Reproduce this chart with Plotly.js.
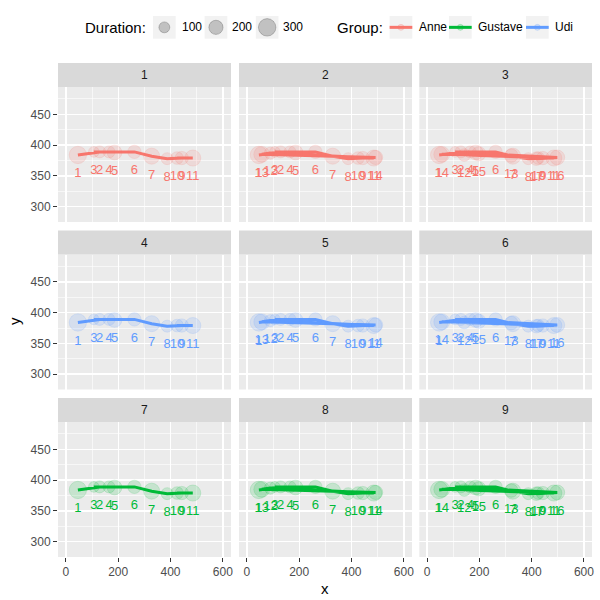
<!DOCTYPE html>
<html>
<head>
<meta charset="utf-8">
<script src="https://cdn.plot.ly/plotly-3.0.1.min.js"></script>
<style>html,body{margin:0;padding:0;background:#fff;}#chart{width:600px;height:600px;}</style>
</head>
<body>
<div id="chart"></div>
<script>
// ---------- data ----------
const groups = ['Anne', 'Gustave', 'Udi'];
const panelLabels = ['1', '2', '3', '4', '5', '6', '7', '8', '9'];
const panelGroup = ['Anne', 'Anne', 'Anne', 'Udi', 'Udi', 'Udi', 'Gustave', 'Gustave', 'Gustave'];
const panelTrial = [1, 2, 3, 1, 2, 3, 1, 2, 3];

// trial 1 fixations
const t1Fix = [1, 2, 3, 4, 5, 6, 7, 8, 9, 10, 11];
const t1X   = [46, 129, 107, 165, 186, 262, 328, 387, 443, 425, 485];
const t1Y   = [384, 389, 389, 389, 388, 389, 382, 378, 379, 379, 379];
const t1Dur = [295, 133, 94, 133, 215, 173, 255, 133, 173, 153, 255];

// trial 2 fixations
const t2Fix = [1, 2, 3, 4, 5, 6, 7, 8, 9, 10, 11, 12, 13, 14];
const t2X   = [46, 129, 107, 165, 186, 262, 328, 387, 443, 425, 485, 90, 57, 492];
const t2Y   = [384, 389, 389, 389, 388, 389, 382, 378, 379, 379, 379, 387, 385, 380];
const t2Dur = [295, 133, 94, 133, 215, 173, 255, 133, 173, 153, 255, 135, 250, 200];

// trial 3 fixations
const t3Fix = [1, 2, 3, 4, 5, 6, 7, 8, 9, 10, 11, 12, 13, 14, 15, 16, 17];
const t3X   = [46, 129, 107, 165, 186, 262, 328, 387, 443, 425, 485, 142, 322, 56, 198, 498, 418];
const t3Y   = [384, 389, 389, 389, 388, 389, 382, 378, 379, 379, 379, 384, 383, 385, 386, 380, 378];
const t3Dur = [295, 133, 94, 133, 215, 173, 255, 133, 173, 153, 255, 150, 180, 250, 200, 220, 180];

const durationBreaks = [100, 200, 300];
const xTicks = [0, 200, 400, 600];
const yTicks = [300, 350, 400, 450];

// ---------- styles ----------
const colors = { Anne: '#F8766D', Gustave: '#00BA38', Udi: '#619CFF' };
const alphaCol = { Anne: 'rgba(248,118,109,0.22)', Gustave: 'rgba(0,186,56,0.22)', Udi: 'rgba(97,156,255,0.22)' };
const FONT = '"Liberation Sans", Arial, sans-serif';
const sizeOf = d => 7.6 + 0.033 * d;      // duration -> marker diameter (px)
const labelOffset = 31;                   // text drawn below the point (data units)

const trials = {
  1: { fix: t1Fix, x: t1X, y: t1Y, dur: t1Dur },
  2: { fix: t2Fix, x: t2X, y: t2Y, dur: t2Dur },
  3: { fix: t3Fix, x: t3X, y: t3Y, dur: t3Dur }
};

const W = 600, H = 600;
const colPx = [[58, 231], [239, 412], [419.3, 592]];
const rowPx = [[87, 222], [254.5, 389.5], [422, 557]];
const stripPx = [[63, 87], [230.5, 254.5], [398, 422]];
const px = v => v / W;
const py = v => 1 - v / H;

const traces = [];
const layout = {
  width: W, height: H,
  margin: { l: 0, r: 0, t: 0, b: 0 },
  paper_bgcolor: '#FFFFFF',
  plot_bgcolor: '#EBEBEB',
  showlegend: false,
  font: { family: FONT, color: '#000000' },
  shapes: [],
  annotations: []
};

for (let i = 0; i < 9; i++) {
  const row = Math.floor(i / 3), col = i % 3;
  const n = i === 0 ? '' : String(i + 1);
  const g = panelGroup[i];
  const d = trials[panelTrial[i]];
  const xa = 'x' + n, ya = 'y' + n;

  layout['xaxis' + n] = {
    domain: [px(colPx[col][0]), px(colPx[col][1])],
    anchor: ya,
    range: [-30, 631],
    tickvals: xTicks,
    showticklabels: row === 2,
    ticks: row === 2 ? 'outside' : '',
    ticklen: 4, tickwidth: 1.1, tickcolor: '#333333',
    tickfont: { family: FONT, size: 12, color: '#4D4D4D' },
    showgrid: true, gridcolor: '#FFFFFF', gridwidth: 1.3,
    minor: { tickvals: [100, 300, 500], showgrid: true, gridcolor: '#FFFFFF', gridwidth: 0.6, ticks: '' },
    zeroline: false, showline: false, fixedrange: true
  };
  layout['yaxis' + n] = {
    domain: [py(rowPx[row][1]), py(rowPx[row][0])],
    anchor: xa,
    range: [275, 494.5],
    tickvals: yTicks,
    showticklabels: col === 0,
    ticks: col === 0 ? 'outside' : '',
    ticklen: 4, tickwidth: 1.1, tickcolor: '#333333',
    tickfont: { family: FONT, size: 12, color: '#4D4D4D' },
    showgrid: true, gridcolor: '#FFFFFF', gridwidth: 1.3,
    minor: { tickvals: [275, 325, 375, 425, 475], showgrid: true, gridcolor: '#FFFFFF', gridwidth: 0.6, ticks: '' },
    zeroline: false, showline: false, fixedrange: true
  };

  // path
  traces.push({
    type: 'scatter', mode: 'lines', xaxis: xa, yaxis: ya,
    x: d.x, y: d.y,
    line: { color: colors[g], width: 3 },
    hoverinfo: 'skip'
  });
  // fixations
  traces.push({
    type: 'scatter', mode: 'markers', xaxis: xa, yaxis: ya,
    x: d.x, y: d.y,
    marker: {
      size: d.dur.map(sizeOf), sizemode: 'diameter',
      color: alphaCol[g],
      line: { color: alphaCol[g], width: 1 }
    },
    hoverinfo: 'skip'
  });
  // labels
  traces.push({
    type: 'scatter', mode: 'text', xaxis: xa, yaxis: ya,
    x: d.x, y: d.y.map(v => v - labelOffset),
    text: d.fix.map(String),
    textposition: 'middle center',
    textfont: { family: FONT, size: 13, color: colors[g] },
    hoverinfo: 'skip'
  });

  // strip
  layout.shapes.push({
    type: 'rect', xref: 'paper', yref: 'paper', layer: 'below',
    x0: px(colPx[col][0]), x1: px(colPx[col][1]),
    y0: py(stripPx[row][1]), y1: py(stripPx[row][0]),
    fillcolor: '#D9D9D9', line: { width: 0 }
  });
  layout.annotations.push({
    xref: 'paper', yref: 'paper', showarrow: false,
    x: px((colPx[col][0] + colPx[col][1]) / 2),
    y: py((stripPx[row][0] + stripPx[row][1]) / 2),
    xanchor: 'center', yanchor: 'middle',
    text: panelLabels[i],
    font: { family: FONT, size: 12, color: '#1A1A1A' }
  });
}

// axis titles
layout.annotations.push({
  xref: 'paper', yref: 'paper', showarrow: false,
  x: px((colPx[0][0] + colPx[2][1]) / 2), y: py(588),
  xanchor: 'center', yanchor: 'middle',
  text: 'x', font: { family: FONT, size: 15, color: '#000000' }
});
layout.annotations.push({
  xref: 'paper', yref: 'paper', showarrow: false,
  x: px(14), y: py(321), textangle: -90,
  xanchor: 'center', yanchor: 'middle',
  text: 'y', font: { family: FONT, size: 15, color: '#000000' }
});

// ---------- legend (drawn) ----------
const legY0 = 16, legY1 = 38.7, legYc = (legY0 + legY1) / 2;
function txt(x, text, size) {
  layout.annotations.push({
    xref: 'paper', yref: 'paper', showarrow: false,
    x: px(x), y: py(legYc), xanchor: 'left', yanchor: 'middle',
    text: text, font: { family: FONT, size: size, color: '#000000' }
  });
}
function keyBox(x0) {
  layout.shapes.push({
    type: 'rect', xref: 'paper', yref: 'paper',
    x0: px(x0), x1: px(x0 + 22.7), y0: py(legY1), y1: py(legY0),
    fillcolor: '#F2F2F2', line: { width: 0 }
  });
}
function circle(cx, cy, dpx, fill) {
  layout.shapes.push({
    type: 'circle', xref: 'paper', yref: 'paper',
    x0: px(cx - dpx / 2), x1: px(cx + dpx / 2), y0: py(cy + dpx / 2), y1: py(cy - dpx / 2),
    fillcolor: fill, line: { color: fill, width: 1 }
  });
}

txt(82.7, 'Duration:', 15);
const durKeyX = [153, 204.6, 255.8];
const durTextX = [180, 230, 281];
durationBreaks.forEach((b, k) => {
  keyBox(durKeyX[k]);
  circle(durKeyX[k] + 11.35, legYc, sizeOf(b), 'rgba(0,0,0,0.2)');
  txt(durTextX[k], String(b), 12);
});

txt(335, 'Group:', 15);
const grpKeyX = [389.6, 449, 526];
const grpTextX = [416.5, 476, 553];
groups.forEach((g, k) => {
  keyBox(grpKeyX[k]);
  layout.shapes.push({
    type: 'line', xref: 'paper', yref: 'paper',
    x0: px(grpKeyX[k]), x1: px(grpKeyX[k] + 22.7), y0: py(legYc), y1: py(legYc),
    line: { color: colors[g], width: 3 }
  });
  circle(grpKeyX[k] + 11.35, legYc, 6, alphaCol[g]);
  txt(grpTextX[k], g, 12);
});

Plotly.newPlot('chart', traces, layout, { displayModeBar: false, staticPlot: true });
</script>
</body>
</html>
